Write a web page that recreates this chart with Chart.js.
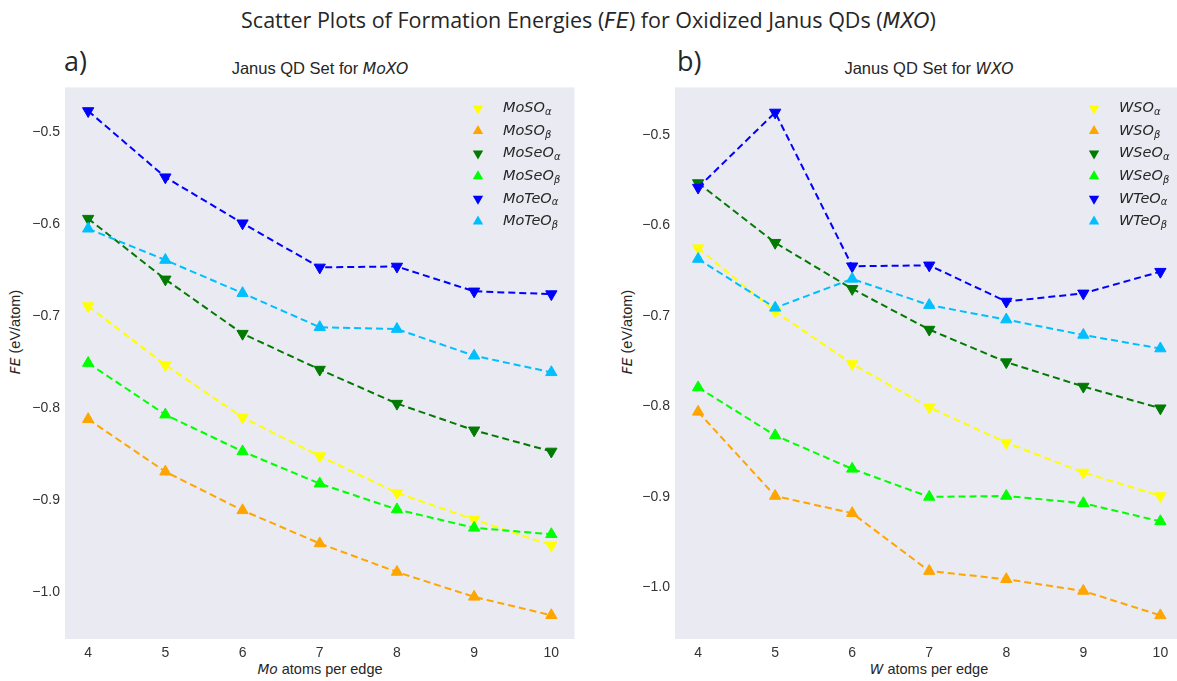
<!DOCTYPE html>
<html>
<head>
<meta charset="utf-8">
<script src="https://cdn.jsdelivr.net/npm/chart.js@4.4.1/dist/chart.umd.min.js"></script>
<style>
body { margin: 0; background: #fff; }
#fig { position: relative; width: 1177px; height: 681px; overflow: hidden; font-family: "Liberation Sans", Arial, sans-serif; color: #262626; }
canvas { position: absolute; }
.txt { position: absolute; white-space: nowrap; text-align: center; }
#titulo { left: 0; top: 5px; width: 1177px; font-family: "Open Sans", sans-serif; font-size: 21.5px; }
.letra { font-family: "Open Sans", sans-serif; font-size: 27px; top: 42px; }
.sub { font-size: 16.5px; top: 59px; width: 400px; }
.xlab { font-size: 14.5px; top: 661px; width: 400px; }
.ylab { font-size: 14.5px; width: 200px; height: 20px; line-height: 20px; transform: rotate(-90deg); }
i { font-family: "DejaVu Sans", sans-serif; font-size: 0.95em; }
</style>
</head>
<body>
<div id="fig">
  <div class="txt" id="titulo">Scatter Plots of Formation Energies (<i>FE</i>) for Oxidized Janus QDs (<i>MXO</i>)</div>
  <div class="txt letra" style="left:64px">a)</div>
  <div class="txt letra" style="left:677px">b)</div>
  <div class="txt sub" style="left:120px">Janus QD Set for <i>MoXO</i></div>
  <div class="txt sub" style="left:729px">Janus QD Set for <i>WXO</i></div>
  <div class="txt xlab" style="left:120px"><i>Mo</i> atoms per edge</div>
  <div class="txt xlab" style="left:729px"><i>W</i> atoms per edge</div>
  <div class="txt ylab" style="left:-85px; top:322px"><i>FE</i> (eV/atom)</div>
  <div class="txt ylab" style="left:527px; top:322px"><i>FE</i> (eV/atom)</div>
  <canvas id="grafico_a" width="567" height="592" style="left:15px; top:74px"></canvas>
  <canvas id="grafico_b" width="566" height="592" style="left:625px; top:74px"></canvas>
</div>
<script>
// dados
const xEdge = [4, 5, 6, 7, 8, 9, 10]
const xTicks = [4, 5, 6, 7, 8, 9, 10]
const yTicks = [-1.0, -0.9, -0.8, -0.7, -0.6, -0.5]

// painel a) MoXO
const moSOa = [-0.689, -0.753, -0.810, -0.852, -0.892, -0.921, -0.949]
const moSOb = [-0.812, -0.869, -0.911, -0.947, -0.978, -1.005, -1.025]
const moSeOa = [-0.594, -0.660, -0.719, -0.758, -0.795, -0.824, -0.847]
const moSeOb = [-0.751, -0.807, -0.847, -0.882, -0.910, -0.930, -0.937]
const moTeOa = [-0.477, -0.549, -0.599, -0.647, -0.646, -0.673, -0.676]
const moTeOb = [-0.605, -0.639, -0.675, -0.712, -0.714, -0.743, -0.761]

// painel b) WXO
const wSOa = [-0.625, -0.695, -0.753, -0.801, -0.840, -0.873, -0.899]
const wSOb = [-0.806, -0.899, -0.918, -0.982, -0.991, -1.004, -1.031]
const wSeOa = [-0.553, -0.619, -0.670, -0.715, -0.751, -0.778, -0.802]
const wSeOb = [-0.779, -0.832, -0.869, -0.900, -0.899, -0.907, -0.927]
const wTeOa = [-0.558, -0.475, -0.645, -0.644, -0.684, -0.675, -0.651]
const wTeOb = [-0.637, -0.691, -0.659, -0.688, -0.704, -0.721, -0.736]

const cores = ['#FFFF00', '#FFA500', '#007A00', '#00FF00', '#0000FF', '#00BFFF']
const fonteEixo = { family: '"Liberation Sans", Arial, sans-serif', size: 14 }

function serie(nome, indice, valores, i) {
    let alfa = indice === 'α'
    return {
        label: nome, indice: indice,
        data: xEdge.map((x, k) => ({ x: x, y: valores[k] })),
        showLine: true,
        borderColor: cores[i], backgroundColor: cores[i],
        borderWidth: 2, borderDash: [7, 4],
        pointStyle: 'triangle', pointRotation: alfa ? 180 : 0,
        pointRadius: 6.5, pointBorderWidth: 1, pointBorderColor: cores[i],
        order: 6 - i // como no matplotlib, o ultimo fica por cima
    }
}

// fundo cinza do seaborn
const fundo = {
    id: 'fundo',
    beforeDraw(chart) {
        let a = chart.chartArea, ctx = chart.ctx
        ctx.save()
        ctx.fillStyle = '#EAEAF2'
        ctx.fillRect(a.left, a.top, a.right - a.left, a.bottom - a.top)
        ctx.restore()
    }
}

function triangulo(ctx, x, y, r, baixo) {
    let s = baixo ? -1 : 1
    ctx.beginPath()
    ctx.moveTo(x, y - s * r)
    ctx.lineTo(x + r * 0.866, y + s * r / 2)
    ctx.lineTo(x - r * 0.866, y + s * r / 2)
    ctx.closePath()
    ctx.fill()
}

// legenda com subscrito (alfa / beta)
const legenda = {
    id: 'legenda',
    afterDraw(chart) {
        let ctx = chart.ctx, a = chart.chartArea
        let ds = chart.data.datasets
        ctx.save()
        let maior = 0
        ds.forEach(d => {
            ctx.font = 'italic 14.5px "DejaVu Sans"'
            let w = ctx.measureText(d.label).width
            ctx.font = 'italic 10px "DejaVu Sans"'
            w += ctx.measureText(d.indice).width
            if (w > maior) maior = w
        })
        let xTexto = a.right - 14 - maior
        let xMarca = xTexto - 25
        ds.forEach((d, i) => {
            let y = a.top + 21 + i * 22.6
            ctx.fillStyle = d.borderColor
            triangulo(ctx, xMarca, y, 6, d.indice === 'α')
            ctx.fillStyle = '#262626'
            ctx.textBaseline = 'middle'
            ctx.textAlign = 'left'
            ctx.font = 'italic 14.5px "DejaVu Sans"'
            ctx.fillText(d.label, xTexto, y)
            let w = ctx.measureText(d.label).width
            ctx.font = 'italic 10px "DejaVu Sans"'
            ctx.fillText(d.indice, xTexto + w, y + 4)
        })
        ctx.restore()
    }
}

function montar(id, series, ymin, ymax) {
    const ctx = document.getElementById(id).getContext('2d')
    return new Chart(ctx, {
        type: 'scatter',
        data: { datasets: series },
        options: {
            responsive: false, animation: false, events: [],
            layout: { padding: { top: 10, right: 0, bottom: 0, left: 0 } },
            plugins: { legend: { display: false }, tooltip: { enabled: false } },
            scales: {
                x: {
                    type: 'linear', min: 3.7, max: 10.3,
                    grid: { display: false, drawTicks: false }, border: { display: false },
                    afterBuildTicks: s => { s.ticks = xTicks.map(v => ({ value: v })) },
                    afterFit: s => { s.height = 27 },
                    ticks: { padding: 6, maxRotation: 0, autoSkip: false, font: fonteEixo, color: '#333', callback: v => String(v) }
                },
                y: {
                    type: 'linear', min: ymin, max: ymax,
                    grid: { display: false, drawTicks: false }, border: { display: false },
                    afterBuildTicks: s => { s.ticks = yTicks.map(v => ({ value: v })) },
                    afterFit: s => { s.width = 50 },
                    ticks: { padding: 5, font: fonteEixo, color: '#333', callback: v => '\u2212' + Math.abs(v).toFixed(1) }
                }
            }
        },
        plugins: [fundo, legenda]
    })
}

montar('grafico_a', [
    serie('MoSO', 'α', moSOa, 0),
    serie('MoSO', 'β', moSOb, 1),
    serie('MoSeO', 'α', moSeOa, 2),
    serie('MoSeO', 'β', moSeOb, 3),
    serie('MoTeO', 'α', moTeOa, 4),
    serie('MoTeO', 'β', moTeOb, 5)
], -1.0508, -0.4514)

montar('grafico_b', [
    serie('WSO', 'α', wSOa, 0),
    serie('WSO', 'β', wSOb, 1),
    serie('WSeO', 'α', wSeOa, 2),
    serie('WSeO', 'β', wSeOb, 3),
    serie('WTeO', 'α', wTeOa, 4),
    serie('WTeO', 'β', wTeOb, 5)
], -1.0571, -0.4473)
</script>
</body>
</html>
